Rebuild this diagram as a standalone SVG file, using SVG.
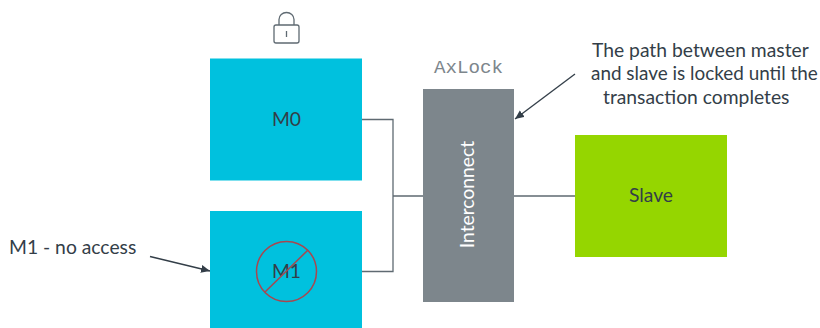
<svg xmlns="http://www.w3.org/2000/svg" width="820" height="328" viewBox="0 0 820 328">
<style>
text{font-family:Lato,"Open Sans",sans-serif;fill:#333e48;font-size:19.300px}
.c{text-anchor:middle}
.w{stroke:#5f6a72;stroke-width:1.300;fill:none}
.a{stroke:#333e48;stroke-width:1.300;fill:none;marker-end:url(#ah)}
.blue{fill:#00c1de}
</style>
<defs><marker id="ah" markerUnits="userSpaceOnUse" markerWidth="10" markerHeight="10" refX="9" refY="4" orient="auto"><path d="M0 0L9 4L0 8z" fill="#333e48"/></marker></defs>
<rect width="820" height="328" fill="#fff"/>
<g id="connectors">
<path class="w" d="M362 119.500H393V271.500H362M393 196H423M514 196H575"/>
<path class="a" d="M150 256.500L210 271"/>
<path class="a" d="M575 74L515 119"/>
</g>
<g id="lock" fill="none" stroke="#5f6a72" stroke-width="1.300">
<rect x="274" y="25" width="25" height="18" rx="2"/>
<path d="M279 25V19.500a7.500 7 0 0 1 15 0V25M286.500 31V37"/>
</g>
<g id="m0"><rect class="blue" x="210" y="58.500" width="152" height="122"/><text class="c" x="286.500" y="126">M0</text></g>
<g id="m1"><rect class="blue" x="210" y="211" width="152" height="117"/><text class="c" x="286.500" y="278">M1</text>
<circle cx="286.500" cy="271.500" r="30" fill="none" stroke="#a8474f" stroke-width="1.500"/><path d="M265 292L308 250" stroke="#a8474f" stroke-width="1.500"/></g>
<g id="interconnect"><rect x="423" y="89" width="91" height="213" fill="#7d868c"/><text class="c" transform="translate(474 194.500) rotate(-90)" style="fill:#fff">Interconnect</text></g>
<g id="slave"><rect x="575" y="135" width="152" height="122" fill="#95d600"/><text class="c" x="651" y="202">Slave</text></g>
<text x="434" y="73" style="font-family:'Liberation Mono',monospace;fill:#7d868c;font-size:19.200px">AxLock</text>
<text x="9" y="254">M1 - no access</text>
<text x="592" y="57">The path between master</text>
<text x="591" y="80" style="font-size:18.900px">and slave is locked until the</text>
<text x="603" y="104">transaction completes</text>
</svg>
